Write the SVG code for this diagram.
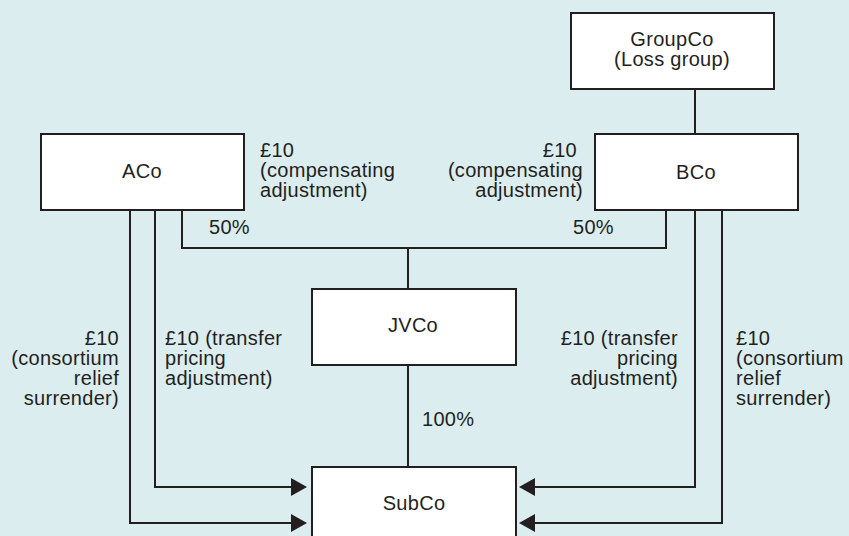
<svg xmlns="http://www.w3.org/2000/svg" width="849" height="536" viewBox="0 0 849 536">
<defs>
<style>
.box{fill:#ffffff;stroke:#231f20;stroke-width:2}
.ln{fill:none;stroke:#231f20;stroke-width:2}
.ah{fill:#231f20}
text{font-family:"Liberation Sans",Arial,sans-serif;font-size:20px;letter-spacing:0.3px;fill:#231f20}
.c{text-anchor:middle}
.e{text-anchor:end}
</style>
</defs>
<rect x="0" y="0" width="849" height="536" fill="#dcedf0"/>
<g id="connectors">
<path class="ln" d="M695,89 V134"/>
<path class="ln" d="M182,210 V248 H666 V210"/>
<path class="ln" d="M408,248 V289"/>
<path class="ln" d="M408,365 V467"/>
<path class="ln" d="M155,210 V487 H292"/>
<path class="ln" d="M130,210 V523 H292"/>
<path class="ln" d="M695,210 V487 H535"/>
<path class="ln" d="M722,210 V523 H535"/>
<polygon class="ah" points="307,487 291,478 291,496"/>
<polygon class="ah" points="307,523 291,514 291,532"/>
<polygon class="ah" points="519,487 535,478 535,496"/>
<polygon class="ah" points="519,523 535,514 535,532"/>
</g>
<g id="GroupCo">
<rect class="box" x="571" y="13" width="203" height="76"/>
<text class="c" x="672" y="46">GroupCo</text>
<text class="c" x="672" y="66">(Loss group)</text>
</g>
<g id="ACo">
<rect class="box" x="41" y="134" width="203" height="76"/>
<text class="c" x="142" y="178">ACo</text>
</g>
<g id="BCo">
<rect class="box" x="595" y="134" width="203" height="76"/>
<text class="c" x="696" y="179">BCo</text>
</g>
<g id="JVCo">
<rect class="box" x="312" y="289" width="204" height="76"/>
<text class="c" x="413" y="332">JVCo</text>
</g>
<g id="SubCo">
<rect class="box" x="312" y="467" width="204" height="80"/>
<text class="c" x="414" y="510">SubCo</text>
</g>
<g id="labels">
<text x="260" y="157">£10</text>
<text x="260" y="177">(compensating</text>
<text x="260" y="197">adjustment)</text>
<text class="e" x="577" y="157">£10</text>
<text class="e" x="583" y="177">(compensating</text>
<text class="e" x="583" y="197">adjustment)</text>
<text x="209" y="234">50%</text>
<text x="573" y="234">50%</text>
<text x="422" y="426">100%</text>
<text class="e" x="119" y="345">£10</text>
<text class="e" x="119" y="365">(consortium</text>
<text class="e" x="119" y="385">relief</text>
<text class="e" x="119" y="405">surrender)</text>
<text x="165" y="345">£10 (transfer</text>
<text x="165" y="365">pricing</text>
<text x="165" y="385">adjustment)</text>
<text class="e" x="678" y="345">£10 (transfer</text>
<text class="e" x="678" y="365">pricing</text>
<text class="e" x="678" y="385">adjustment)</text>
<text x="736" y="345">£10</text>
<text x="736" y="365">(consortium</text>
<text x="736" y="385">relief</text>
<text x="736" y="405">surrender)</text>
</g>
</svg>
